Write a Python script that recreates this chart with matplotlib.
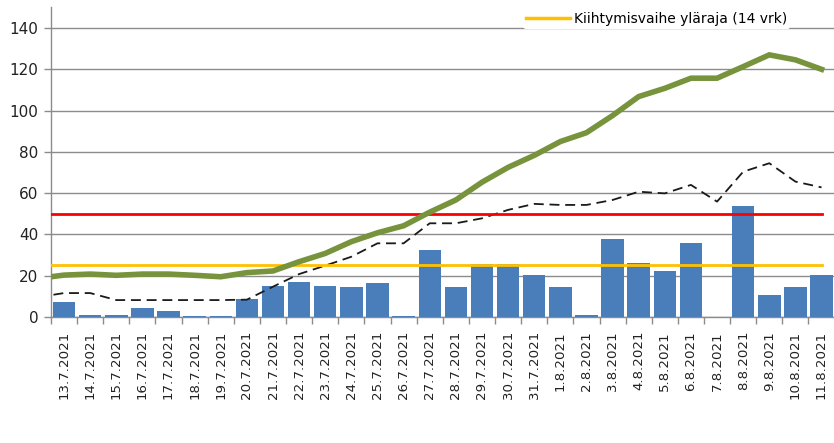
import matplotlib
matplotlib.use("Agg")
import matplotlib.pyplot as plt
from matplotlib.lines import Line2D
import numpy as np

dates = ["13.7.2021", "14.7.2021", "15.7.2021", "16.7.2021", "17.7.2021", "18.7.2021",
         "19.7.2021", "20.7.2021", "21.7.2021", "22.7.2021", "23.7.2021", "24.7.2021",
         "25.7.2021", "26.7.2021", "27.7.2021", "28.7.2021", "29.7.2021", "30.7.2021",
         "31.7.2021", "1.8.2021", "2.8.2021", "3.8.2021", "4.8.2021", "5.8.2021",
         "6.8.2021", "7.8.2021", "8.8.2021", "9.8.2021", "10.8.2021", "11.8.2021"]

daily = [7.2, 1.1, 1.1, 4.6, 3.1, 0.4, 0.4, 8.6, 15.2, 17.1, 15.2, 14.4, 16.3, 0.4,
         32.5, 14.4, 25.7, 25.7, 20.4, 14.4, 1.1, 37.6, 26.3, 22.5, 35.7, 0.0,
         53.6, 10.5, 14.4, 20.4]

# line series include the preceding day (12.7.2021), which is clipped at the axis
incidence14 = [18.7, 20.3, 20.8, 20.2, 20.8, 20.8, 20.2, 19.5, 21.5, 22.3, 26.8, 30.8,
               36.5, 40.8, 44.2, 50.8, 56.7, 65.3, 72.5, 78.3, 85.0, 89.3, 97.6,
               106.8, 110.8, 115.7, 115.7, 121.3, 127.0, 124.6, 120.0]
incidence7 = [9.6, 11.6, 11.6, 8.2, 8.2, 8.2, 8.2, 8.2, 8.4, 14.7, 20.8, 24.9, 29.2,
              35.7, 35.7, 45.4, 45.4, 47.8, 51.9, 54.8, 54.3, 54.3, 56.7, 60.7, 59.9,
              64.0, 55.9, 70.4, 74.5, 65.6, 62.8]

red_limit = 50
yellow_limit = 25
legend_label = "Kiihtymisvaihe yläraja (14 vrk)"
yticks = [0, 20, 40, 60, 80, 100, 120, 140]

plt.rcParams['font.family'] = ['DejaVu Sans']

fig = plt.figure(figsize=(8.34, 4.43), dpi=100)
ax = fig.add_axes([51 / 834, 1 - 317 / 443, 783.6 / 834, 309.6 / 443])

x = np.arange(len(dates))
xl = np.arange(-1, len(dates))

ax.bar(x, daily, width=0.86, color="#4A7EBB", zorder=3)
ax.plot(xl, incidence7, color="#1a1a1a", lw=1.3, dashes=(5.5, 3.2), zorder=4)
ax.plot([-0.5, len(dates) - 1], [red_limit, red_limit], color="#FF0000", lw=2, zorder=4)
ax.plot([-0.5, len(dates) - 1], [yellow_limit, yellow_limit], color="#FFC000", lw=2, zorder=4)
ax.plot(xl, incidence14, color="#77933C", lw=4, zorder=5, solid_joinstyle="miter")

ax.set_xlim(-0.5, len(dates) - 0.5)
ax.set_ylim(0, 150)
ax.set_yticks(yticks)
ax.set_yticklabels([str(v) for v in yticks], fontsize=11, color="#222222")
ax.yaxis.grid(True, color="#8c8c8c", lw=1, zorder=0)
ax.set_axisbelow(True)

ax.set_xticks(x)
ax.set_xticklabels(dates, rotation=90, fontsize=9.6, color="#222222", va="top", ha="center")
ax.set_xticks(np.arange(-0.5, len(dates), 1), minor=True)
ax.tick_params(axis="x", which="major", length=0, pad=10)
ax.tick_params(axis="x", which="minor", length=5, color="#8c8c8c", width=1)
ax.tick_params(axis="y", length=5, color="#8c8c8c", width=1, pad=4)

for s in ["top", "right"]:
    ax.spines[s].set_visible(False)
for s in ["left", "bottom"]:
    ax.spines[s].set_color("#8c8c8c")
    ax.spines[s].set_linewidth(1)

handle = Line2D([], [], color="#FFC000", lw=2.5)
leg = fig.legend([handle], [legend_label], loc="center left",
                 bbox_to_anchor=(516 / 834, 1 - 19 / 443), frameon=True,
                 framealpha=1, edgecolor="none", facecolor="white",
                 fontsize=10, handlelength=3.2, handletextpad=0.3,
                 borderpad=0.2)

fig.savefig("out.png", dpi=100)
